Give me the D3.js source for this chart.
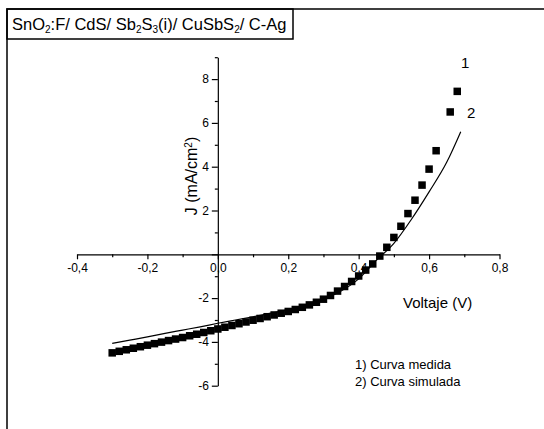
<!DOCTYPE html>
<html>
<head>
<meta charset="utf-8">
<script src="https://cdn.jsdelivr.net/npm/d3@7"></script>
<style>
  html, body { margin: 0; padding: 0; background: #fff; }
  svg { display: block; font-family: "Liberation Sans", Arial, sans-serif; }
</style>
</head>
<body>
<svg id="chart" width="544" height="429"></svg>
<script>
// Measured J-V curve (squares): voltage in V, current density in mA/cm²
const measuredV = [-0.30, -0.28, -0.26, -0.24, -0.22, -0.20, -0.18, -0.16, -0.14, -0.12,
                   -0.10, -0.08, -0.06, -0.04, -0.02, 0.00, 0.02, 0.04, 0.06, 0.08,
                   0.10, 0.12, 0.14, 0.16, 0.18, 0.20, 0.22, 0.24, 0.26, 0.28,
                   0.30, 0.32, 0.34, 0.36, 0.38, 0.40, 0.42, 0.44, 0.46, 0.48,
                   0.50, 0.52, 0.54, 0.56, 0.58, 0.60, 0.62, 0.66, 0.68];
const measuredJ = [-4.50, -4.43, -4.36, -4.29, -4.22, -4.15, -4.08, -4.01, -3.94, -3.87,
                   -3.80, -3.72, -3.65, -3.57, -3.49, -3.41, -3.33, -3.25, -3.17, -3.09,
                   -3.01, -2.93, -2.85, -2.77, -2.69, -2.61, -2.52, -2.42, -2.31, -2.19,
                   -2.05, -1.88, -1.68, -1.47, -1.24, -0.99, -0.72, -0.44, -0.08, 0.32,
                   0.77, 1.28, 1.86, 2.47, 3.16, 3.89, 4.73, 6.50, 7.44];

// Simulated J-V curve (solid line)
const simulatedV = [-0.30, -0.25, -0.20, -0.15, -0.10, -0.05, 0.00, 0.05, 0.10, 0.15,
                    0.20, 0.25, 0.30, 0.35, 0.40, 0.45, 0.50, 0.55, 0.60, 0.65, 0.69];
const simulatedJ = [-4.07, -3.92, -3.77, -3.61, -3.46, -3.31, -3.15, -3.00, -2.85, -2.69,
                    -2.53, -2.33, -2.06, -1.68, -1.12, -0.28, 0.50, 1.60, 2.85, 4.20, 5.60];

const xMajorTicks = [-0.4, -0.2, 0.0, 0.2, 0.4, 0.6, 0.8];
const xMinorTicks = [-0.3, -0.1, 0.1, 0.3, 0.5, 0.7];
const yMajorTicks = [-6, -4, -2, 0, 2, 4, 6, 8];
const yMinorTicks = [-5, -3, -1, 1, 3, 5, 7, 9];

const legendLines = ["1) Curva medida", "2) Curva simulada"];

const svg = d3.select("#chart");

// Outer frame (left and top edges) and the title box
svg.append("path")
  .attr("d", "M7,429 V9 H544")
  .attr("fill", "none").attr("stroke", "#000").attr("stroke-width", 1.5);
svg.append("rect")
  .attr("x", 7).attr("y", 9).attr("width", 286).attr("height", 30)
  .attr("fill", "none").attr("stroke", "#000").attr("stroke-width", 1.5);

// Title with sub-scripts
const title = svg.append("text").attr("x", 12).attr("y", 30)
  .attr("font-size", 16.5).attr("fill", "#000");
const titleParts = [
  ["SnO", false], ["2", true], [":F/ CdS/ Sb", false], ["2", true], ["S", false], ["3", true],
  ["(i)/ CuSbS", false], ["2", true], ["/ C-Ag", false]
];
titleParts.forEach(([t, sub]) => {
  const ts = title.append("tspan").text(t);
  if (sub) ts.attr("font-size", 10).attr("baseline-shift", "-30%");
});

// Scales
const x = d3.scaleLinear().domain([-0.4, 0.8]).range([77, 499.5]);
const y = d3.scaleLinear().domain([-6, 9]).range([385.7, 57.2]);

const locale = d3.formatLocale({ decimal: ",", thousands: ".", grouping: [3], currency: ["", ""], minus: "-" });
const fx = locale.format(".1f");
const fy = locale.format("d");

// X axis (crosses at J = 0)
const gx = svg.append("g").attr("transform", `translate(0,${y(0)})`);
gx.call(d3.axisBottom(x).tickValues(xMajorTicks).tickSize(5).tickPadding(4).tickFormat(fx).tickSizeOuter(0));
const gxm = svg.append("g").attr("transform", `translate(0,${y(0)})`);
gxm.call(d3.axisBottom(x).tickValues(xMinorTicks).tickSize(3).tickFormat("").tickSizeOuter(0));
gxm.select(".domain").remove();

// Y axis (crosses at V = 0)
const gy = svg.append("g").attr("transform", `translate(${x(0)},0)`);
gy.call(d3.axisLeft(y).tickValues(yMajorTicks).tickSize(6).tickPadding(3)
  .tickFormat(d => d === 0 ? "" : fy(d)).tickSizeOuter(0));
const gym = svg.append("g").attr("transform", `translate(${x(0)},0)`);
gym.call(d3.axisLeft(y).tickValues(yMinorTicks).tickSize(3).tickFormat("").tickSizeOuter(0));
gym.select(".domain").remove();

[gx, gy, gxm, gym].forEach(g => {
  g.selectAll("path, line").attr("stroke", "#000").attr("stroke-width", 1.2);
  g.selectAll("text").attr("fill", "#000")
    .attr("font-family", "'Liberation Sans', Arial, sans-serif");
});
gx.selectAll("text").attr("font-size", 12);
gy.selectAll("text").attr("font-size", 12);

// Axis titles
const yTitle = svg.append("text")
  .attr("transform", `translate(197,176) rotate(-90)`)
  .attr("text-anchor", "middle").attr("font-size", 16).attr("fill", "#000");
yTitle.append("tspan").text("J (mA/cm");
yTitle.append("tspan").text("2").attr("font-size", 10).attr("baseline-shift", "super");
yTitle.append("tspan").text(")");

svg.append("text").attr("x", 403).attr("y", 308)
  .attr("font-size", 15).attr("fill", "#000").text("Voltaje (V)");

// Simulated curve
const simData = simulatedV.map((v, i) => [v, simulatedJ[i]]);
svg.append("path")
  .datum(simData)
  .attr("fill", "none").attr("stroke", "#000").attr("stroke-width", 1.2)
  .attr("d", d3.line().x(d => x(d[0])).y(d => y(d[1])).curve(d3.curveMonotoneX));

// Measured points
const sq = 7.5;
svg.append("g").selectAll("rect")
  .data(measuredV.map((v, i) => [v, measuredJ[i]]))
  .join("rect")
  .attr("x", d => x(d[0]) - sq / 2).attr("y", d => y(d[1]) - sq / 2)
  .attr("width", sq).attr("height", sq).attr("fill", "#000");

// Curve labels
const last = measuredV.length - 1;
svg.append("text").attr("x", x(measuredV[last]) + 8).attr("y", y(measuredJ[last]) - 23)
  .attr("font-size", 15).attr("text-anchor", "middle").attr("fill", "#000").text("1");
svg.append("text").attr("x", x(measuredV[last - 1]) + 21).attr("y", y(measuredJ[last - 1]) + 6)
  .attr("font-size", 15).attr("text-anchor", "middle").attr("fill", "#000").text("2");

// Legend
svg.append("g").selectAll("text")
  .data(legendLines).join("text")
  .attr("x", 355).attr("y", (d, i) => 369 + i * 17)
  .attr("font-size", 13).attr("fill", "#000").text(d => d);
</script>
</body>
</html>
